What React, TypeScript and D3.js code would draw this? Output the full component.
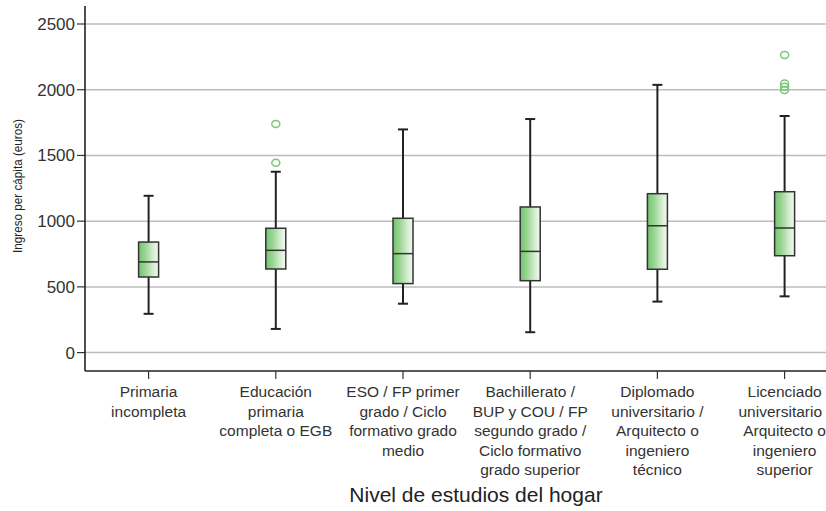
import React from "react";
import * as d3 from "d3";

// Education level categories (x axis)
const categories: string[][] = [
  ["Primaria", "incompleta"],
  ["Educación", "primaria", "completa o EGB"],
  ["ESO / FP primer", "grado / Ciclo", "formativo grado", "medio"],
  ["Bachillerato /", "BUP y COU / FP", "segundo grado /", "Ciclo formativo", "grado superior"],
  ["Diplomado", "universitario /", "Arquitecto o", "ingeniero", "técnico"],
  ["Licenciado", "universitario /", "Arquitecto o", "ingeniero", "superior"],
];

// Box statistics per category (euros)
const whiskerLow = [295, 180, 372, 155, 388, 428];
const q1 = [575, 636, 525, 547, 634, 737];
const median = [690, 778, 753, 770, 965, 948];
const q3 = [841, 946, 1022, 1108, 1209, 1224];
const whiskerHigh = [1193, 1376, 1698, 1777, 2037, 1800];
const outliers: number[][] = [[], [1445, 1740], [], [], [], [1998, 2022, 2048, 2265]];

const yTicks = [0, 500, 1000, 1500, 2000, 2500];

const W = 826;
const H = 511;
const left = 85;
const bottom = 371;
const top = 6;

export default function App() {
  const x = d3
    .scaleBand<number>()
    .domain(categories.map((_, i) => i))
    .range([left, left + 6 * 127.2])
    .paddingInner(0)
    .paddingOuter(0);
  const y = d3.scaleLinear().domain([-140, 2637]).range([bottom, top]);
  const boxW = 20;
  const capW = 5;
  const font = "'Liberation Sans', Arial, sans-serif";

  return (
    <svg
      width={W}
      height={H}
      style={{ position: "absolute", left: 0, top: 0, background: "#fff" }}
    >
      <defs>
        <linearGradient id="boxFill" x1="0" x2="1" y1="0" y2="0">
          <stop offset="0" stopColor="#74c46f" />
          <stop offset="0.35" stopColor="#9ad694" />
          <stop offset="0.7" stopColor="#d2ebcd" />
          <stop offset="1" stopColor="#f4faf2" />
        </linearGradient>
      </defs>

      {/* horizontal gridlines and y ticks */}
      {yTicks.map((t) => (
        <g key={t}>
          <line x1={left} x2={W} y1={y(t)} y2={y(t)} stroke="#bdbdbd" strokeWidth={1.5} />
          <line x1={left - 8} x2={left} y1={y(t)} y2={y(t)} stroke="#333" strokeWidth={1.2} />
          <text
            x={left - 10}
            y={y(t)}
            dy="0.35em"
            textAnchor="end"
            fontFamily={font}
            fontSize={17}
            fill="#333"
          >
            {t}
          </text>
        </g>
      ))}

      {/* axes */}
      <line x1={left} x2={left} y1={top} y2={bottom} stroke="#222" strokeWidth={1.6} />
      <line x1={left} x2={W} y1={bottom} y2={bottom} stroke="#222" strokeWidth={1.6} />

      {/* boxes */}
      {categories.map((_, i) => {
        const cx = (x(i) as number) + x.bandwidth() / 2;
        return (
          <g key={i}>
            <line x1={cx} x2={cx} y1={bottom} y2={bottom + 8} stroke="#333" strokeWidth={1.2} />
            <line x1={cx} x2={cx} y1={y(whiskerHigh[i])} y2={y(q3[i])} stroke="#222" strokeWidth={2} />
            <line x1={cx} x2={cx} y1={y(q1[i])} y2={y(whiskerLow[i])} stroke="#222" strokeWidth={2} />
            <line x1={cx - capW} x2={cx + capW} y1={y(whiskerHigh[i])} y2={y(whiskerHigh[i])} stroke="#222" strokeWidth={2} />
            <line x1={cx - capW} x2={cx + capW} y1={y(whiskerLow[i])} y2={y(whiskerLow[i])} stroke="#222" strokeWidth={2} />
            <rect
              x={cx - boxW / 2}
              y={y(q3[i])}
              width={boxW}
              height={y(q1[i]) - y(q3[i])}
              fill="url(#boxFill)"
              stroke="#333"
              strokeWidth={1.5}
            />
            <line x1={cx - boxW / 2} x2={cx + boxW / 2} y1={y(median[i])} y2={y(median[i])} stroke="#333" strokeWidth={1.5} />
            {outliers[i].map((o, j) => (
              <ellipse
                key={j}
                cx={cx}
                cy={y(o)}
                rx={4}
                ry={3.5}
                fill="none"
                stroke="#7cc576"
                strokeWidth={1.5}
              />
            ))}
            <text textAnchor="middle" fontFamily={font} fontSize={15.5} fill="#333">
              {categories[i].map((line, k) => (
                <tspan key={k} x={cx} y={397 + k * 19.5}>
                  {line}
                </tspan>
              ))}
            </text>
          </g>
        );
      })}

      {/* axis titles */}
      <text
        x={476}
        y={502}
        textAnchor="middle"
        fontFamily={font}
        fontSize={21}
        fill="#222"
      >
        Nivel de estudios del hogar
      </text>
      <text
        transform="translate(22,186) rotate(-90)"
        textAnchor="middle"
        fontFamily="'Liberation Sans Narrow', 'Liberation Sans', Arial, sans-serif"
        fontSize={13}
        fill="#222"
        textLength={134}
        lengthAdjust="spacingAndGlyphs"
      >
        Ingreso per cápita (euros)
      </text>
    </svg>
  );
}
